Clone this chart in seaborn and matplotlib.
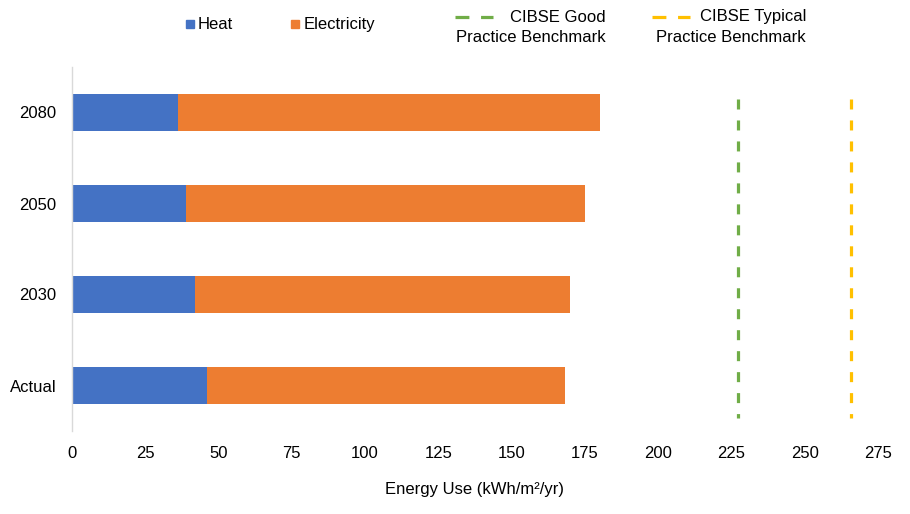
import matplotlib
matplotlib.use("Agg")
import matplotlib.pyplot as plt
import seaborn as sns
import pandas as pd
from matplotlib.lines import Line2D
from matplotlib.patches import Rectangle

# ---- data ----
categories = ["2080", "2050", "2030", "Actual"]
heat = [36.0, 38.8, 41.9, 46.0]
electricity = [144.0, 136.2, 128.0, 122.1]
good_practice = 227.3
typical_practice = 265.8
x_ticks = [0, 25, 50, 75, 100, 125, 150, 175, 200, 225, 250, 275]

BLUE = "#4472C4"
ORANGE = "#ED7D31"
GREEN = "#70AD47"
YELLOW = "#FFC000"

sns.set_theme(style="white")
plt.rcParams["font.family"] = ["Liberation Sans", "DejaVu Sans"]
plt.rcParams["lines.scale_dashes"] = False
plt.rcParams["text.color"] = "black"
plt.rcParams["axes.labelcolor"] = "black"

df = pd.DataFrame({"cat": categories, "heat": heat, "elec": electricity})
df["total"] = df["heat"] + df["elec"]

W, H = 910, 514
fig = plt.figure(figsize=(W / 100, H / 100), dpi=100)
ax = fig.add_axes([72 / W, 1 - 431 / H, (878 - 72) / W, (431 - 67) / H])

sns.barplot(data=df, x="total", y="cat", order=categories, color=ORANGE,
            width=0.4, saturation=1, ax=ax, orient="h", linewidth=0)
sns.barplot(data=df, x="heat", y="cat", order=categories, color=BLUE,
            width=0.4, saturation=1, ax=ax, orient="h", linewidth=0)

for val, col in [(good_practice, GREEN), (typical_practice, YELLOW)]:
    ln = ax.vlines(val, -0.15, 3.36, colors=col, linewidth=2.3)
    ln.set_linestyle((0, (7.2, 7.9)))
    ln.set_capstyle("butt")

ax.set_xlim(0, 275)
ax.set_ylim(3.5, -0.5)
ax.set_xticks(x_ticks)
ax.set_xticklabels([str(t) for t in x_ticks])
ax.tick_params(axis="both", length=0, labelsize=12, colors="black")
ax.tick_params(axis="x", pad=11)
ax.tick_params(axis="y", pad=11)
ax.set_ylabel("")
ax.set_xlabel("Energy Use (kWh/m²/yr)", fontsize=12, labelpad=15, color="black")
for s in ["top", "right", "bottom"]:
    ax.spines[s].set_visible(False)
ax.spines["left"].set_color("#D9D9D9")
ax.spines["left"].set_linewidth(1)
ax.grid(False)

# ---- legend (manual, figure pixel coords) ----
def fx(x):
    return x / W

def fy(y):
    return 1 - y / H

fig.patches.append(Rectangle((fx(186), fy(28)), 8 / W, 8 / H, color=BLUE,
                             transform=fig.transFigure, figure=fig))
fig.text(fx(198), fy(24), "Heat", fontsize=12, va="center", ha="left")
fig.patches.append(Rectangle((fx(291), fy(28)), 8 / W, 8 / H, color=ORANGE,
                             transform=fig.transFigure, figure=fig))
fig.text(fx(304), fy(24), "Electricity", fontsize=12, va="center", ha="left")

for (x0, x1, col, l1, tx) in [(455, 493, GREEN, "CIBSE Good", 606),
                              (652, 690, YELLOW, "CIBSE Typical", 806)]:
    fig.lines.append(Line2D([fx(x0), fx(x1)], [fy(17), fy(17)], color=col,
                            linewidth=2.3, linestyle=(0, (10, 8.4)),
                            dash_capstyle="butt", transform=fig.transFigure,
                            figure=fig))
    fig.text(fx(tx), fy(17), l1, fontsize=12, va="center", ha="right")
    fig.text(fx(tx), fy(37), "Practice Benchmark", fontsize=12, va="center", ha="right")

fig.savefig("out.png", dpi=100, facecolor="white")
